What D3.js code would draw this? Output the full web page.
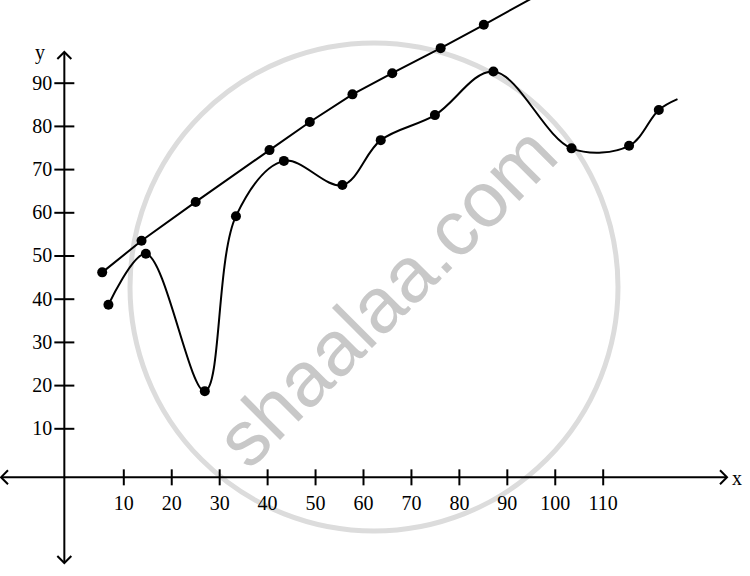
<!DOCTYPE html>
<html>
<head>
<meta charset="utf-8">
<script src="https://cdn.jsdelivr.net/npm/d3@7"></script>
<style>
  body { margin: 0; background: #fff; }
  text { font-family: "Liberation Serif", "Times New Roman", serif; fill: #000; }
</style>
</head>
<body>
<div id="main"><svg width="750" height="576"></svg></div>
<script>
// values
var xTicks = [10, 20, 30, 40, 50, 60, 70, 80, 90, 100, 110];
var yTicks = [10, 20, 30, 40, 50, 60, 70, 80, 90];

// straight line with dots
var upperX = [5.6, 13.8, 25.1, 40.5, 48.9, 57.8, 66.1, 76.2, 85.2];
var upperY = [46.1, 53.4, 62.4, 74.4, 80.9, 87.3, 92.2, 98.0, 103.4];
var upperEnd = [95.5, 109.7];

// smooth curve with dots
var lowerX = [6.9, 14.7, 27.0, 33.5, 43.5, 55.7, 63.7, 75.0, 87.2, 103.5, 115.5, 121.7];
var lowerY = [38.6, 50.4, 18.6, 59.1, 71.9, 66.3, 76.7, 82.5, 92.6, 74.8, 75.4, 83.7];
var lowerEnd = [125.6, 86.2];

var svg = d3.select("#main svg");
var svgWidth = +svg.attr('width');
var svgHeight = +svg.attr('height');

var xScale = d3.scaleLinear().domain([10, 110]).range([123.3, 602.7]);
var yScale = d3.scaleLinear().domain([10, 90]).range([428.3, 82.7]);

// where the axes cross (a bit off the zero of the scales, as drawn)
var AXIS_X = xScale(-2.3);
var AXIS_Y = yScale(-1.35);

// watermark
var wm = svg.append('g').attr('class', 'watermark');
wm.append('circle')
    .attr('cx', 374).attr('cy', 287).attr('r', 244)
    .attr('fill', 'none')
    .attr('stroke', '#dcdcdc')
    .attr('stroke-width', 5);
wm.append('text')
    .attr('transform', 'translate(' + [386, 296] + ') rotate(-45)')
    .attr('text-anchor', 'middle')
    .attr('dominant-baseline', 'central')
    .style('font-family', '"Liberation Sans", Arial, sans-serif')
    .style('font-size', '78px')
    .style('fill', '#c8c8c8')
    .text('shaalaa.com');

// axes lines
var axisG = svg.append('g').attr('class', 'axes')
    .attr('stroke', '#000').attr('stroke-width', 2).attr('fill', 'none');

axisG.append('line')
    .attr('x1', 1).attr('x2', 727)
    .attr('y1', AXIS_Y).attr('y2', AXIS_Y);
axisG.append('line')
    .attr('x1', AXIS_X).attr('x2', AXIS_X)
    .attr('y1', 52).attr('y2', 563);

function arrow(x, y, dir) {
  var a = 7;
  var pts;
  if (dir == 'right') pts = [[x - a, y - a], [x, y], [x - a, y + a]];
  if (dir == 'left') pts = [[x + a, y - a], [x, y], [x + a, y + a]];
  if (dir == 'up') pts = [[x - a, y + a], [x, y], [x + a, y + a]];
  if (dir == 'down') pts = [[x - a, y - a], [x, y], [x + a, y - a]];
  axisG.append('path').attr('d', d3.line()(pts));
}
arrow(727, AXIS_Y, 'right');
arrow(1, AXIS_Y, 'left');
arrow(AXIS_X, 52, 'up');
arrow(AXIS_X, 563, 'down');

// x ticks
var xAxis = svg.append('g')
    .attr('transform', 'translate(' + [0, AXIS_Y - 8] + ')')
    .call(d3.axisBottom(xScale).tickValues(xTicks).tickSize(16).tickPadding(10));
xAxis.select('.domain').remove();
xAxis.selectAll('line').attr('stroke', '#000').attr('stroke-width', 2);
xAxis.selectAll('text').style('font-size', '20px').style('font-family', '"Liberation Serif", serif');

// y ticks
var yAxis = svg.append('g')
    .attr('transform', 'translate(' + [AXIS_X + 10, 0] + ')')
    .call(d3.axisLeft(yScale).tickValues(yTicks).tickSize(20).tickPadding(2));
yAxis.select('.domain').remove();
yAxis.selectAll('line').attr('stroke', '#000').attr('stroke-width', 2);
yAxis.selectAll('text').style('font-size', '20px').style('font-family', '"Liberation Serif", serif');

svg.append('text').attr('x', 40).attr('y', 52)
    .attr('text-anchor', 'middle').attr('dominant-baseline', 'central')
    .style('font-size', '20px').text('y');
svg.append('text').attr('x', 737).attr('y', 478)
    .attr('text-anchor', 'middle').attr('dominant-baseline', 'central')
    .style('font-size', '20px').text('x');

// series
var upper = upperX.map(function(x, i) { return {x: x, y: upperY[i]}; });
var lower = lowerX.map(function(x, i) { return {x: x, y: lowerY[i]}; });

var line = d3.line()
    .x(function(d) { return xScale(d.x); })
    .y(function(d) { return yScale(d.y); });

svg.append('path')
    .datum(upper.concat([{x: upperEnd[0], y: upperEnd[1]}]))
    .attr('d', line.curve(d3.curveLinear))
    .attr('fill', 'none').attr('stroke', '#000').attr('stroke-width', 2);

svg.append('path')
    .datum(lower.concat([{x: lowerEnd[0], y: lowerEnd[1]}]))
    .attr('d', line.curve(d3.curveCatmullRom.alpha(0.5)))
    .attr('fill', 'none').attr('stroke', '#000').attr('stroke-width', 2);

svg.selectAll('.dot')
    .data(upper.concat(lower))
    .enter().append('circle')
    .attr('class', 'dot')
    .attr('cx', function(d) { return xScale(d.x); })
    .attr('cy', function(d) { return yScale(d.y); })
    .attr('r', 5)
    .attr('fill', '#000');
</script>
</body>
</html>
